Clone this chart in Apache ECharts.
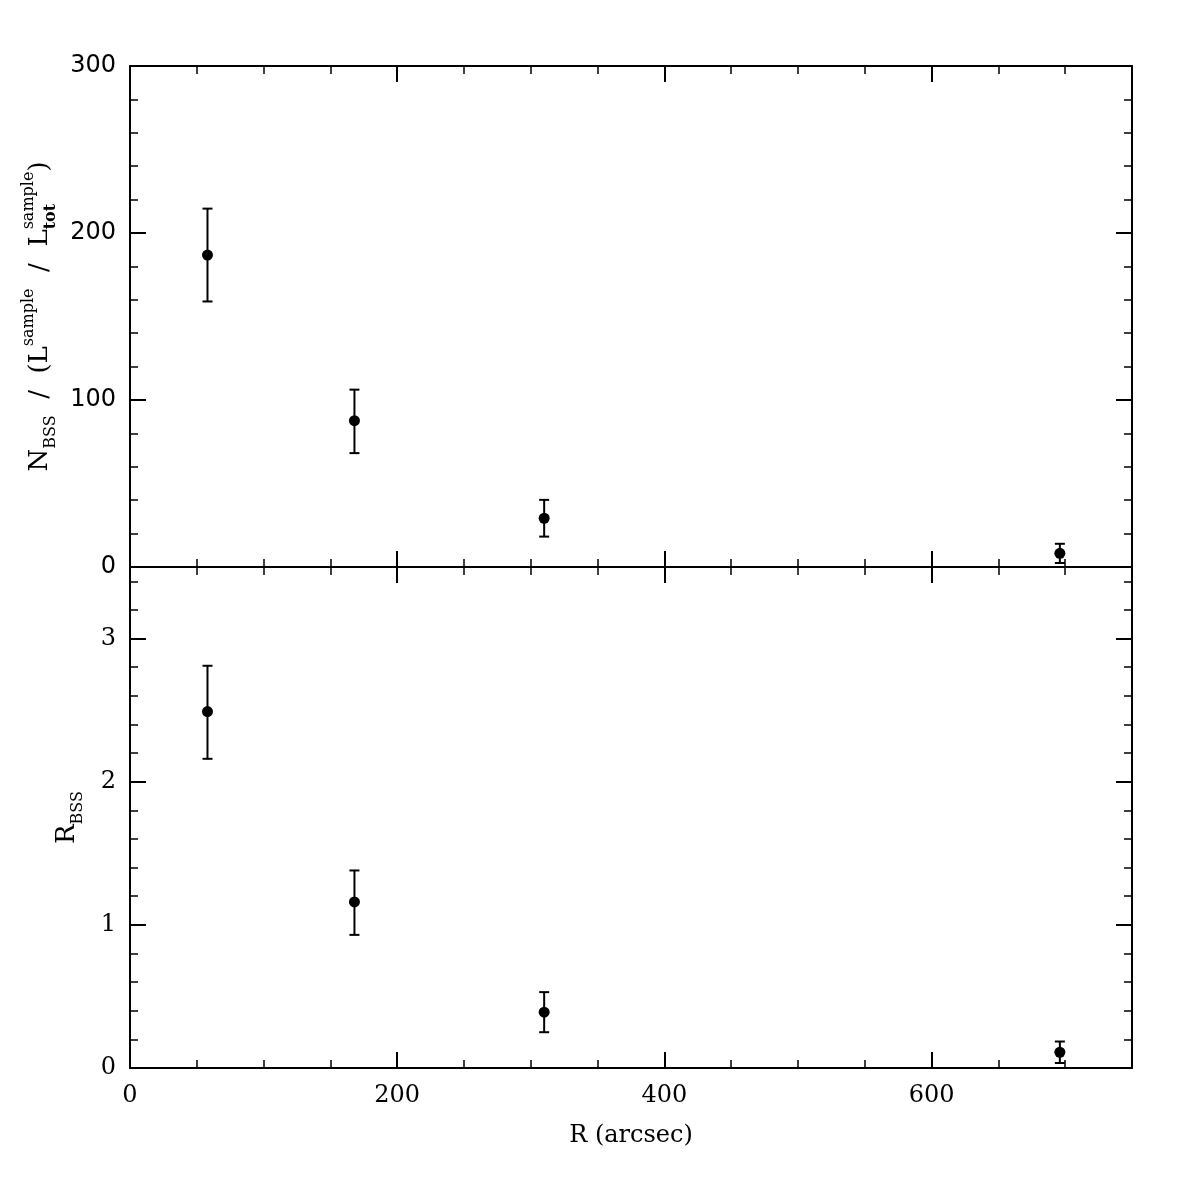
<!DOCTYPE html>
<html>
<head>
<meta charset="utf-8">
<title>BSS radial distribution</title>
<script src="https://cdn.jsdelivr.net/npm/echarts@6/dist/echarts.min.js"></script>
<style>
    html, body { margin: 0; padding: 0; background: #fff; }
    #chart { width: 1196px; height: 1196px; }
</style>
</head>
<body>
<div id="chart"></div>
<script>
// radial bins (arcsec)
var radius = [58, 168, 310, 696];

// top panel: N_BSS / (L_sample / L_tot_sample)
var nNorm = [186.8, 87.6, 29.2, 8.2];
var nNormLo = [159.0, 68.2, 18.2, 2.4];
var nNormHi = [214.6, 106.2, 40.2, 13.9];

// bottom panel: R_BSS
var rBss = [2.49, 1.16, 0.39, 0.11];
var rBssLo = [2.16, 0.93, 0.25, 0.035];
var rBssHi = [2.81, 1.38, 0.53, 0.185];

var SANS = '"DejaVu Sans", sans-serif';
var SERIF = '"DejaVu Serif", serif';

function points(xs, ys) {
    return xs.map(function (x, i) { return [x, ys[i]]; });
}

function bars(xs, lo, hi) {
    return xs.map(function (x, i) { return [x, lo[i], hi[i]]; });
}

// vertical error bar with caps
function errorBar(params, api) {
    var x = api.value(0);
    var lo = api.coord([x, api.value(1)]);
    var hi = api.coord([x, api.value(2)]);
    var cap = 5;
    var st = { stroke: '#000', lineWidth: 2 };
    return {
        type: 'group',
        children: [
            { type: 'line', shape: { x1: lo[0], y1: lo[1], x2: hi[0], y2: hi[1] }, style: st },
            { type: 'line', shape: { x1: lo[0] - cap, y1: lo[1], x2: lo[0] + cap, y2: lo[1] }, style: st },
            { type: 'line', shape: { x1: hi[0] - cap, y1: hi[1], x2: hi[0] + cap, y2: hi[1] }, style: st }
        ]
    };
}

var richName = {
    m: { fontFamily: SERIF, fontSize: 26, color: '#000', lineHeight: 38, align: 'left' },
    sub: { fontFamily: SERIF, fontSize: 16, color: '#000', lineHeight: 16, verticalAlign: 'bottom', align: 'left' },
    sup: { fontFamily: SERIF, fontSize: 16, color: '#000', lineHeight: 16, verticalAlign: 'top', align: 'left' },
    stk: { fontFamily: SERIF, fontSize: 16, fontWeight: 'bold', color: '#000', lineHeight: 16, verticalAlign: 'bottom', align: 'left', width: 0 }
};

// one axis; major = long ticks + frame line, minor = short ticks only
function xAx(grid, pos, step, major, labels, font) {
    return {
        type: 'value', gridIndex: grid, position: pos,
        min: 0, max: 750, interval: step,
        axisLine: { show: major, onZero: false, lineStyle: { color: '#000', width: 2 } },
        axisTick: { show: true, inside: true, length: major ? 16 : 8,
            lineStyle: { color: '#000', width: major ? 2 : 1.5 } },
        axisLabel: { show: labels, showMaxLabel: false, margin: 16,
            fontFamily: font, fontSize: 24, color: '#000' },
        splitLine: { show: false }
    };
}

function yAx(grid, pos, max, step, major, labels, font, size) {
    return {
        type: 'value', gridIndex: grid, position: pos,
        min: 0, max: max, interval: step,
        axisLine: { show: major, onZero: false, lineStyle: { color: '#000', width: 2 } },
        axisTick: { show: true, inside: true, length: major ? 16 : 8,
            lineStyle: { color: '#000', width: major ? 2 : 1.5 } },
        axisLabel: { show: labels, showMaxLabel: max === 300, margin: 14,
            fontFamily: font, fontSize: size, color: '#000' },
        splitLine: { show: false }
    };
}

var xAxes = [
    xAx(0, 'bottom', 200, true, false, SANS),
    xAx(0, 'bottom', 50, false, false, SANS),
    xAx(0, 'top', 200, true, false, SANS),
    xAx(0, 'top', 50, false, false, SANS),
    xAx(1, 'bottom', 200, true, true, SERIF),
    xAx(1, 'bottom', 50, false, false, SERIF),
    xAx(1, 'top', 200, true, false, SERIF),
    xAx(1, 'top', 50, false, false, SERIF)
];
xAxes[4].name = 'R (arcsec)';
xAxes[4].nameLocation = 'middle';
xAxes[4].nameGap = 56;
xAxes[4].nameTextStyle = { fontFamily: SERIF, fontSize: 24, color: '#000' };

var yAxes = [
    yAx(0, 'left', 300, 100, true, true, SANS, 24),
    yAx(0, 'left', 300, 20, false, false, SANS, 24),
    yAx(0, 'right', 300, 100, true, false, SANS, 24),
    yAx(0, 'right', 300, 20, false, false, SANS, 24),
    yAx(1, 'left', 3.5, 1, true, true, SERIF, 24),
    yAx(1, 'left', 3.5, 0.2, false, false, SERIF, 24),
    yAx(1, 'right', 3.5, 1, true, false, SERIF, 24),
    yAx(1, 'right', 3.5, 0.2, false, false, SERIF, 24)
];
yAxes[0].name = '{m|N}{sub|BSS}{m|  /  (L}{sup|sample}{m|  /  L}{stk|tot}{sup|sample}{m|)}';
yAxes[0].nameLocation = 'middle';
yAxes[0].nameRotate = 90;
yAxes[0].nameGap = 70;
yAxes[0].nameTextStyle = { rich: richName };
yAxes[4].name = '{m|R}{sub|BSS}';
yAxes[4].nameLocation = 'middle';
yAxes[4].nameRotate = 90;
yAxes[4].nameGap = 44;
yAxes[4].nameTextStyle = { rich: richName };

var chart = echarts.init(document.getElementById('chart'));
var option = {
    backgroundColor: '#fff',
    animation: false,
    grid: [
        { left: 130, top: 66, width: 1002, height: 501 },
        { left: 130, top: 567, width: 1002, height: 501 }
    ],
    xAxis: xAxes,
    yAxis: yAxes,
    series: [
        {
            type: 'custom', xAxisIndex: 0, yAxisIndex: 0,
            renderItem: errorBar, encode: { x: 0, y: [1, 2] },
            data: bars(radius, nNormLo, nNormHi)
        },
        {
            type: 'scatter', xAxisIndex: 0, yAxisIndex: 0,
            symbol: 'circle', symbolSize: 11, itemStyle: { color: '#000', opacity: 1 },
            data: points(radius, nNorm)
        },
        {
            type: 'custom', xAxisIndex: 4, yAxisIndex: 4,
            renderItem: errorBar, encode: { x: 0, y: [1, 2] },
            data: bars(radius, rBssLo, rBssHi)
        },
        {
            type: 'scatter', xAxisIndex: 4, yAxisIndex: 4,
            symbol: 'circle', symbolSize: 11, itemStyle: { color: '#000', opacity: 1 },
            data: points(radius, rBss)
        }
    ]
};
chart.setOption(option);
</script>
</body>
</html>
